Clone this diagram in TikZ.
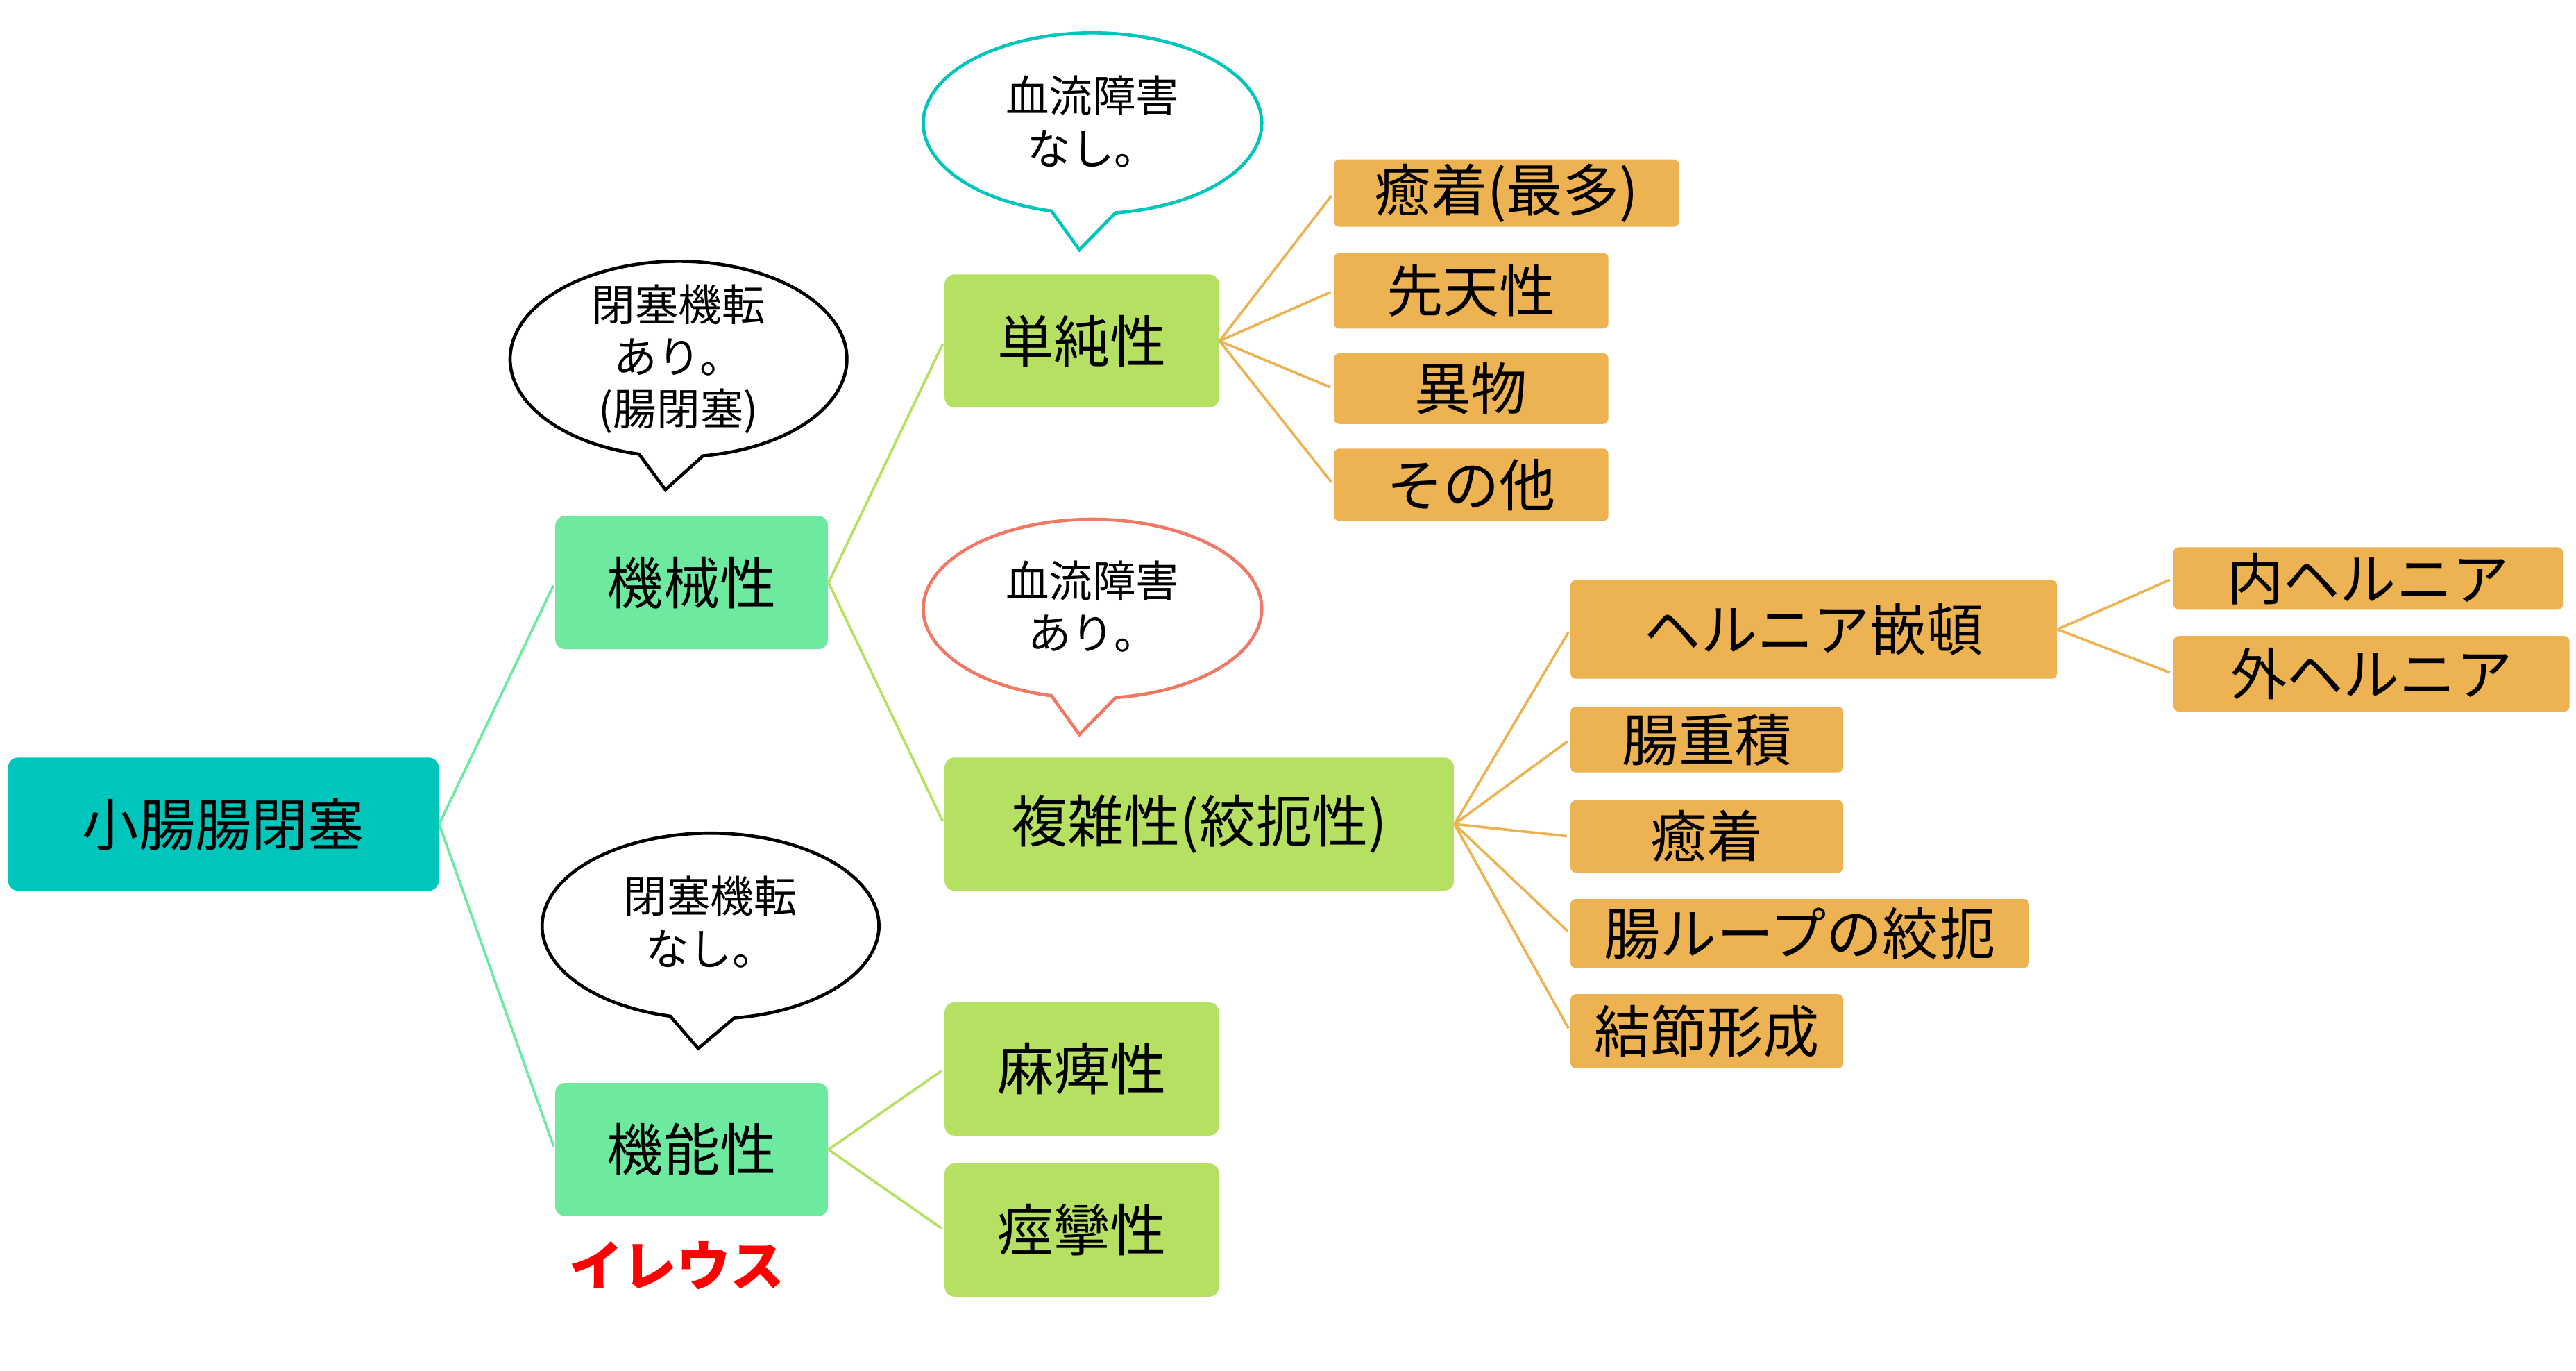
\documentclass[tikz,border=0pt]{standalone}
\usepackage{fontspec}
\setmainfont{Noto Sans CJK JP}
\definecolor{rootteal}{RGB}{0,197,187}
\definecolor{midgreen}{RGB}{110,233,160}
\definecolor{limegreen}{RGB}{181,224,97}
\definecolor{leaforange}{RGB}{237,178,82}
\definecolor{salmon}{RGB}{240,120,100}
\tikzset{
  box/.style={inner sep=0pt, align=center, font=\fontsize{24.4}{29}\selectfont},
  rootbox/.style={box, rounded corners=0.15cm, fill=rootteal},
  mainbox/.style={box, rounded corners=0.15cm, fill=midgreen},
  subbox/.style={box, rounded corners=0.15cm, fill=limegreen},
  leafbox/.style={box, rounded corners=0.08cm, fill=leaforange},
  bubble/.style={line width=1.4pt, fill=white, line join=miter},
  bubbletext/.style={align=center, inner sep=0pt, font=\fontsize{18.8}{22.6}\selectfont},
  link/.style={line width=1.1pt, shorten >=0.05cm}
}
\begin{document}
\begin{tikzpicture}[x=0.025cm, y=-0.025cm]
  \useasboundingbox (0,0) rectangle (1568,834);
  % tree
  \node[rootbox, minimum width=6.55cm, minimum height=2.025cm] (root) at (136,501.5) {小腸腸閉塞};
  \node[mainbox, minimum width=4.15cm, minimum height=2.025cm] (mech) at (421,354.5) {機械性};
  \node[mainbox, minimum width=4.15cm, minimum height=2.025cm] (func) at (421,699.5) {機能性};
  \node[subbox, minimum width=4.175cm, minimum height=2.025cm] (simple) at (658.5,207.5) {単純性};
  \node[subbox, minimum width=7.75cm, minimum height=2.025cm] (complex) at (730,501.5) {複雑性(絞扼性)};
  \node[subbox, minimum width=4.175cm, minimum height=2.025cm] (para) at (658.5,650.5) {麻痺性};
  \node[subbox, minimum width=4.175cm, minimum height=2.025cm] (spasm) at (658.5,748.5) {痙攣性};
  % leaves
  \node[leafbox, minimum width=5.25cm, minimum height=1.025cm] (adh1) at (917,117.5) {癒着(最多)};
  \node[leafbox, minimum width=4.175cm, minimum height=1.15cm] (cong) at (895.5,177) {先天性};
  \node[leafbox, minimum width=4.175cm, minimum height=1.075cm] (fb) at (895.5,236.5) {異物};
  \node[leafbox, minimum width=4.175cm, minimum height=1.1cm] (other) at (895.5,295) {その他};
  \node[leafbox, minimum width=7.4cm, minimum height=1.5cm] (hern) at (1104,383) {ヘルニア嵌頓};
  \node[leafbox, minimum width=4.15cm, minimum height=1.0cm] (intus) at (1039,450) {腸重積};
  \node[leafbox, minimum width=4.15cm, minimum height=1.1cm] (adh2) at (1039,509) {癒着};
  \node[leafbox, minimum width=6.975cm, minimum height=1.05cm] (loop) at (1095.5,568) {腸ループの絞扼};
  \node[leafbox, minimum width=4.15cm, minimum height=1.125cm] (knot) at (1039,627.5) {結節形成};
  \node[leafbox, minimum width=5.925cm, minimum height=0.95cm] (inner) at (1441.5,352) {内ヘルニア};
  \node[leafbox, minimum width=6.025cm, minimum height=1.15cm] (outer) at (1443.5,410) {外ヘルニア};
  \node[text=red, inner sep=0pt, font=\fontsize{23.3}{28}\selectfont\bfseries] (ileus) at (412,770) {イレウス};
  % connectors
  \draw[link, midgreen] (root.east) -- (mech.west);
  \draw[link, midgreen] (root.east) -- (func.west);
  \draw[link, limegreen] (mech.east) -- (simple.west);
  \draw[link, limegreen] (mech.east) -- (complex.west);
  \draw[link, limegreen] (func.east) -- (para.west);
  \draw[link, limegreen] (func.east) -- (spasm.west);
  \foreach \leaf in {adh1,cong,fb,other}
    \draw[link, leaforange] (simple.east) -- (\leaf.west);
  \foreach \leaf in {hern,intus,adh2,loop,knot}
    \draw[link, leaforange] (complex.east) -- (\leaf.west);
  \foreach \leaf in {inner,outer}
    \draw[link, leaforange] (hern.east) -- (\leaf.west);
  % speech bubbles
  \draw[bubble, draw=black] (413,218.5) ++(103.54:102.5 and 59.5)
    arc[start angle=103.54, end angle=441.59, x radius=102.5, y radius=59.5] -- (405,298) -- cycle;
  \draw[bubble, draw=rootteal] (665,75) ++(104.05:103 and 55)
    arc[start angle=104.05, end angle=442.19, x radius=103, y radius=55] -- (657,152) -- cycle;
  \draw[bubble, draw=salmon] (665,370.5) ++(104.05:103 and 54.5)
    arc[start angle=104.05, end angle=442.19, x radius=103, y radius=54.5] -- (657,447) -- cycle;
  \draw[bubble, draw=black] (432.5,563.5) ++(103.83:102.5 and 56.5)
    arc[start angle=103.83, end angle=441.87, x radius=102.5, y radius=56.5] -- (425,638) -- cycle;
  \node[bubbletext] (blockyes) at (413,218.5) {閉塞機転\\あり。\\(腸閉塞)};
  \node[bubbletext] (flownone) at (665,74) {血流障害\\なし。};
  \node[bubbletext] (flowyes) at (665,369) {血流障害\\あり。};
  \node[bubbletext] (blockno) at (432.5,561) {閉塞機転\\なし。};
\end{tikzpicture}
\end{document}
